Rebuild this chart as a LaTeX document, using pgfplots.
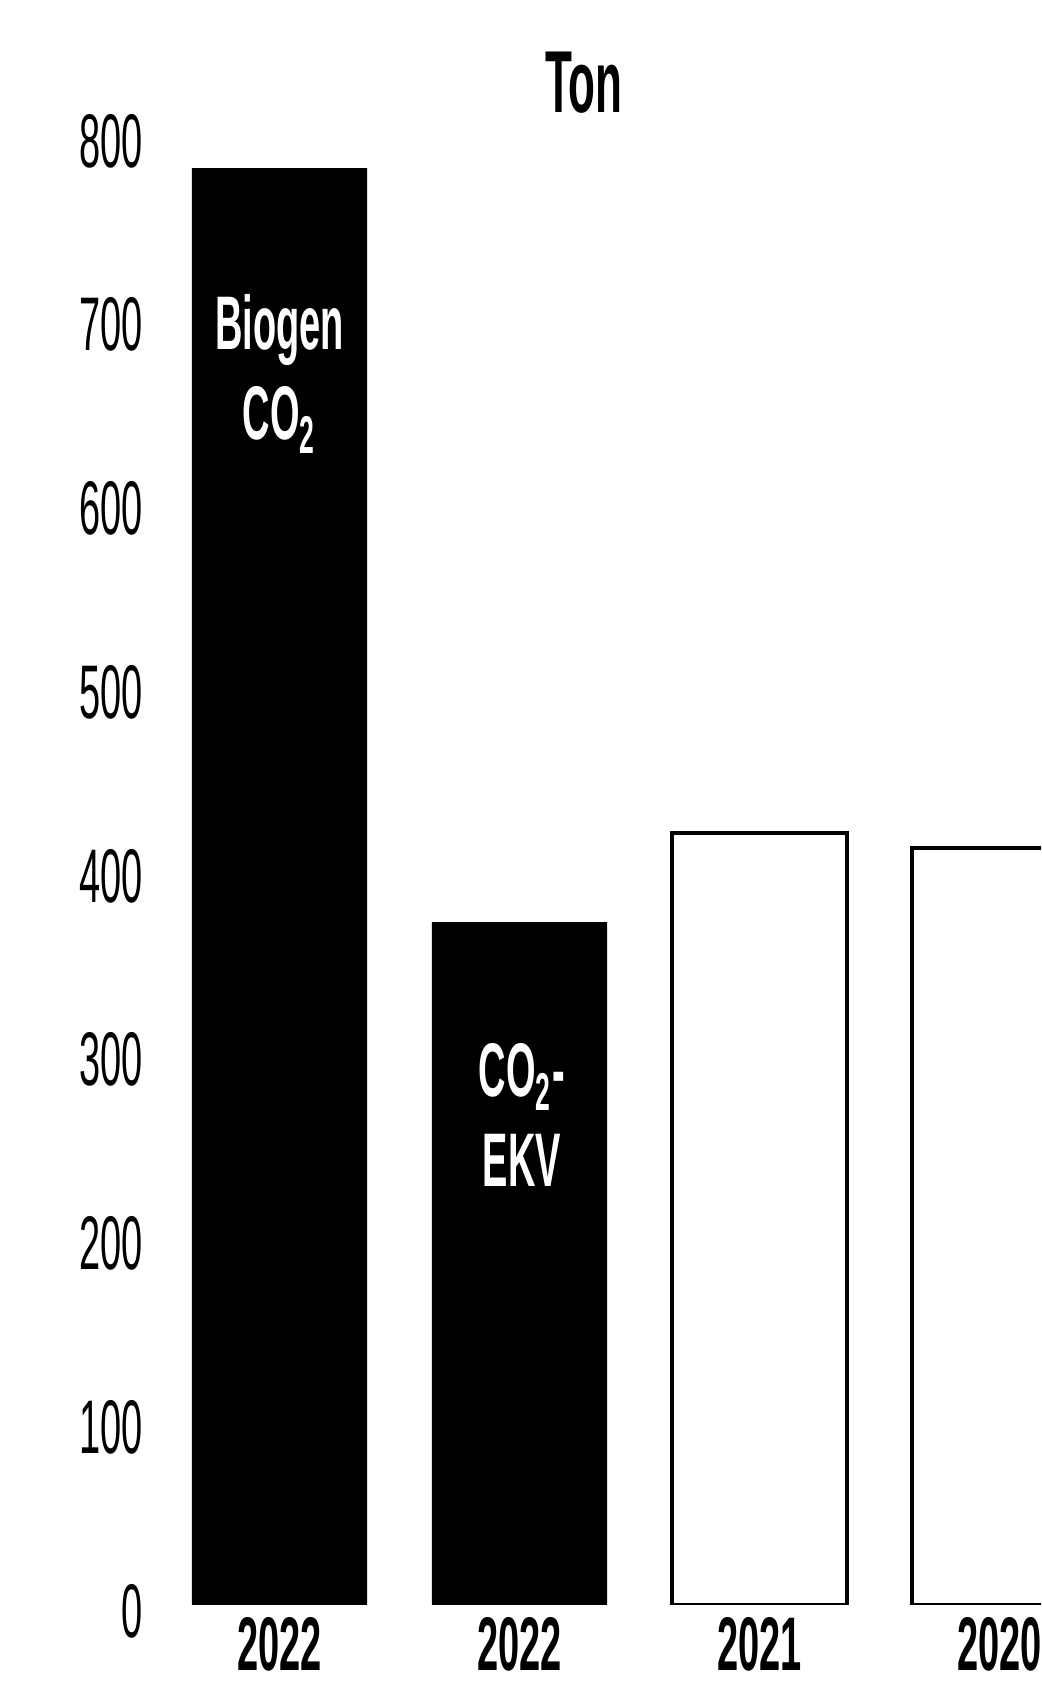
\documentclass[border=0pt]{standalone}
\usepackage{pgfplots}
\pgfplotsset{compat=1.18}
\usepackage{fontspec}
\setmainfont{Liberation Sans}[FakeStretch=0.5]

\begin{document}
\begin{tikzpicture}
\begin{axis}[
  scale only axis,
  width=220.4pt, height=376.7pt,
  xmin=-0.5, xmax=3.173,
  ymin=0, ymax=820,
  axis line style={draw=none},
  major tick length=0pt,
  xtick={0,1,2,3},
  xticklabels={2022,2022,2021,2020},
  ytick={0,100,...,800},
  /pgf/number format/assume math mode=true,
  xticklabel style={font=\fontsize{19}{22}\selectfont\bfseries, inner sep=0pt, anchor=north, yshift=-3pt},
  yticklabel style={font=\fontsize{19}{22}\selectfont, inner sep=0pt, anchor=east, xshift=-4pt, yshift=-1.5pt},
  ybar, bar width=0.73,
]
\addplot[fill=black, draw=none, bar shift=0pt] coordinates {(0,782) (1,371.6)};
\addplot[fill=white, draw=black, line width=1.1pt, bar shift=0pt] coordinates {(2,420) (3,412)};
\end{axis}
\node[anchor=base, text=white, font=\fontsize{19}{22}\selectfont\bfseries] at (30.0pt,313.75pt) {Biogen};
\node[anchor=base, text=white, font=\fontsize{19}{22}\selectfont\bfseries] at (30.0pt,291.25pt) {CO\textsubscript{2}};
\node[anchor=base, text=white, font=\fontsize{19}{22}\selectfont\bfseries] at (90.6pt,127.0pt) {CO\textsubscript{2}-};
\node[anchor=base, text=white, font=\fontsize{19}{22}\selectfont\bfseries] at (90.6pt,104.5pt) {EKV};
\node[anchor=base, font=\fontsize{22}{26}\selectfont\bfseries] at (106.1pt,373.0pt) {Ton};
\path (-39.875pt,-21.75pt) rectangle (220.375pt,401.25pt);
\end{tikzpicture}
\end{document}
